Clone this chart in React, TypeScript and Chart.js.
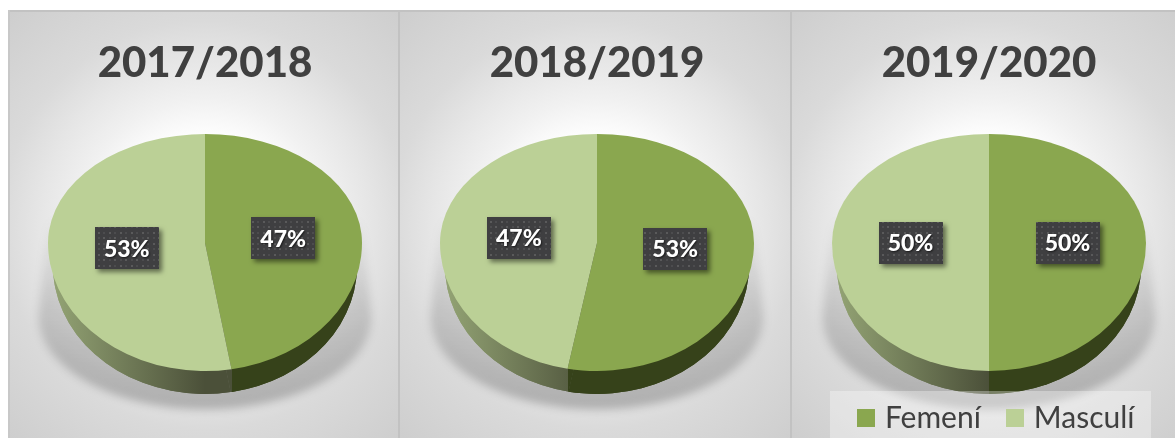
import React, { useEffect, useRef } from "react";
import { Chart, registerables } from "chart.js";

Chart.register(...registerables);

const seasons = ["2017/2018", "2018/2019", "2019/2020"];
const categories = ["Femení", "Masculí"];
const femeni = [47.3, 53, 50];
const masculi = [52.7, 47, 50];

const DARK = "#8aa74f";
const LIGHT = "#bbd096";
const FONT = "Lato, Carlito, Calibri, sans-serif";

const UP = 109 / 157;
const DOWN = 128 / 157;

function swatch(color: string) {
  const c = document.createElement("canvas");
  c.width = 18;
  c.height = 18;
  const p = c.getContext("2d")!;
  p.fillStyle = color;
  p.fillRect(0, 0, 18, 18);
  return c;
}

function dotPattern(ctx: CanvasRenderingContext2D) {
  const c = document.createElement("canvas");
  c.width = 11;
  c.height = 11;
  const p = c.getContext("2d")!;
  p.fillStyle = "#3f3f41";
  p.fillRect(0, 0, 11, 11);
  p.fillStyle = "rgba(255,255,255,0.14)";
  p.fillRect(2, 2, 2, 2);
  p.fillRect(7, 7, 2, 2);
  p.fillStyle = "rgba(255,255,255,0.07)";
  p.fillRect(7, 2, 2, 2);
  p.fillRect(2, 7, 2, 2);
  return ctx.createPattern(c, "repeat")!;
}

function drawWith(el: any, ctx: CanvasRenderingContext2D, fill: any) {
  const saved = el.options;
  el.options = { ...saved, backgroundColor: fill };
  el.draw(ctx);
  el.options = saved;
}

const tiltPlugin = {
  id: "tiltPie",
  beforeDraw(chart: any) {
    const ctx: CanvasRenderingContext2D = chart.ctx;
    const arcs = chart.getDatasetMeta(0).data as any[];
    if (!arcs.length) return;
    const cx = arcs[0].x;
    const cy = arcs[0].y;
    const r = arcs[0].outerRadius;

    // soft floor shadow
    ctx.save();
    ctx.filter = "blur(4px)";
    const sg = ctx.createLinearGradient(0, cy - r * 0.17, 0, cy + r);
    sg.addColorStop(0, "rgba(0,0,0,0)");
    sg.addColorStop(0.45, "rgba(0,0,0,0.12)");
    sg.addColorStop(1, "rgba(0,0,0,0.22)");
    ctx.fillStyle = sg;
    ctx.beginPath();
    ctx.moveTo(cx - r, cy - r * 0.17);
    ctx.lineTo(cx - r * 1.06, cy + r * 0.47);
    ctx.ellipse(cx, cy + r * 0.47, r * 1.06, r * 0.59, 0, Math.PI, 0, true);
    ctx.lineTo(cx + r, cy - r * 0.17);
    ctx.closePath();
    ctx.fill();
    ctx.restore();

    // side wall: the same arcs moved down and slightly narrower,
    // split by a vertical edge under the slice boundary of the top face
    const splitX = Math.round(cx + r * Math.cos(arcs[0].endAngle));
    const light = ctx.createLinearGradient(cx - r, 0, cx, 0);
    light.addColorStop(0, "#93a374");
    light.addColorStop(1, "#4b5039");
    [
      { x: 0, w: splitX, fill: light as any },
      { x: splitX, w: chart.width - splitX, fill: "#36421a" as any },
    ].forEach(({ x, w, fill }) => {
      ctx.save();
      ctx.beginPath();
      ctx.rect(x, 0, w, chart.height);
      ctx.clip();
      ctx.translate(cx, cy + r * 0.146);
      ctx.scale(152 / 157, DOWN);
      ctx.translate(-cx, -cy);
      // paint twice so the seam between the two arcs closes up
      arcs.forEach((el) => drawWith(el, ctx, fill));
      arcs.forEach((el) => drawWith(el, ctx, fill));
      ctx.restore();
    });

    // top face: upper half is foreshortened more than the lower half
    [
      { k: UP, y: 0, h: cy },
      { k: DOWN, y: cy, h: chart.height - cy },
    ].forEach(({ k, y, h }) => {
      ctx.save();
      ctx.beginPath();
      ctx.rect(0, y, chart.width, h);
      ctx.clip();
      ctx.translate(cx, cy);
      ctx.scale(1, k);
      ctx.translate(-cx, -cy);
      arcs.forEach((el) => el.draw(ctx));
      ctx.restore();
    });

    // legend backing
    if (chart.options.plugins.legend.display) {
      ctx.save();
      ctx.fillStyle = "rgba(255,255,255,0.33)";
      ctx.fillRect(38, 381, 321, 47);
      ctx.restore();
    }
  },
  beforeDatasetsDraw() {
    return false;
  },
  afterLayout(chart: any) {
    const l = chart.legend;
    if (chart.options.plugins.legend.display && l) {
      l.top = 362;
      l.bottom = 428;
      l.right = 373.5;
    }
  },
  afterDraw(chart: any) {
    const ctx: CanvasRenderingContext2D = chart.ctx;
    const arcs = chart.getDatasetMeta(0).data as any[];
    const values = chart.data.datasets[0].data as number[];
    const cy = arcs[0].y;
    const pattern = dotPattern(ctx);
    arcs.forEach((el, i) => {
      const c = el.getCenterPoint();
      const y = cy + (c.y - cy) * (c.y < cy ? UP : DOWN);
      ctx.save();
      ctx.shadowColor = "rgba(0,0,0,0.5)";
      ctx.shadowBlur = 5;
      ctx.shadowOffsetX = 3;
      ctx.shadowOffsetY = 3;
      ctx.fillStyle = pattern;
      ctx.fillRect(Math.round(c.x - 32), Math.round(y - 21), 64, 42);
      ctx.shadowColor = "rgba(0,0,0,0.6)";
      ctx.shadowBlur = 2;
      ctx.shadowOffsetX = 1;
      ctx.shadowOffsetY = 1;
      ctx.fillStyle = "#ffffff";
      ctx.font = `900 23px ${FONT}`;
      ctx.textAlign = "center";
      ctx.textBaseline = "middle";
      ctx.fillText(`${Math.round(values[i])}%`, c.x, y + 1);
      ctx.restore();
    });
  },
};

function Panel({ index }: { index: number }) {
  const ref = useRef<HTMLCanvasElement>(null);
  const hasLegend = index === 2;
  useEffect(() => {
    const chart = new Chart(ref.current!, {
      type: "pie",
      data: {
        labels: categories,
        datasets: [
          {
            data: [femeni[index], masculi[index]],
            backgroundColor: [DARK, LIGHT],
            borderWidth: 0,
          },
        ],
      },
      plugins: [tiltPlugin as any],
      options: {
        responsive: false,
        animation: false,
        devicePixelRatio: 1,
        layout: {
          padding: { left: 0, right: 0, top: 0, bottom: hasLegend ? 37 : 38 },
        },
        plugins: {
          tooltip: { enabled: false },
          title: {
            display: true,
            text: seasons[index],
            color: "#404040",
            font: { family: FONT, size: 42, weight: "900", lineHeight: 1 },
            padding: { top: 32, bottom: 2 },
          },
          legend: {
            display: hasLegend,
            position: "bottom",
            align: "end",
            maxHeight: 1,
            labels: {
              usePointStyle: true,
              pointStyleWidth: 7,
              boxHeight: 18,
              padding: 31,
              color: "#404040",
              font: { family: FONT, size: 30 },
              generateLabels: () =>
                categories.map((text, i) => ({
                  text,
                  index: i,
                  fontColor: "#404040",
                  fillStyle: [DARK, LIGHT][i],
                  strokeStyle: [DARK, LIGHT][i],
                  lineWidth: 0,
                  hidden: false,
                  pointStyle: swatch([DARK, LIGHT][i]),
                })),
            },
          },
        },
      } as any,
    });
    return () => chart.destroy();
  }, []);
  return (
    <div
      style={{
        position: "absolute",
        left: index * 392,
        top: 0,
        width: hasLegend ? 383 : 392,
        height: 428,
        background:
          "radial-gradient(circle 330px at 197px 215px, #ffffff 0%, #ffffff 26%, #f1f1f1 38%, #e6e6e6 50%, #dadada 62%, #c8c8c8 100%)",
      }}
    >
      <canvas ref={ref} width={394} height={428} style={{ display: "block", position: "relative", zIndex: 1 }} />
      <div style={{ position: "absolute", left: 0, top: 0, right: 0, height: 2, background: "#c2c2c2" }} />
      {index === 0 && <div style={{ position: "absolute", left: 0, top: 0, bottom: 0, width: 2, background: "#c8c8c8" }} />}
      {index < 2 && <div style={{ position: "absolute", right: -2, top: 0, bottom: 0, width: 4, background: "#c2c2c2" }} />}
    </div>
  );
}

export default function App() {
  return (
    <div style={{ position: "fixed", left: 8, top: 10, width: 1167, height: 428, overflow: "hidden" }}>
      {seasons.map((_, i) => (
        <Panel key={i} index={i} />
      ))}
    </div>
  );
}
